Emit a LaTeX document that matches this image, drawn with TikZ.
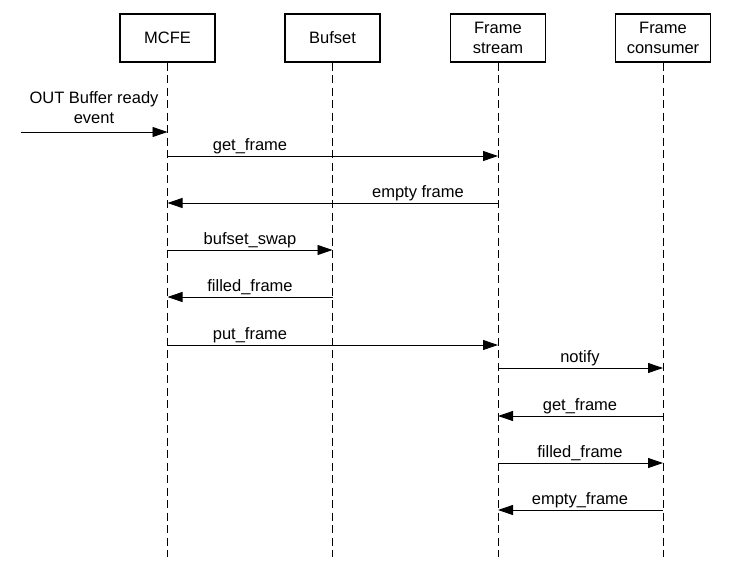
\documentclass[tikz,border=0pt]{standalone}
\usepackage{fontspec}
\setmainfont{Liberation Sans}
\usetikzlibrary{arrows.meta}
\begin{document}
\begin{tikzpicture}[x=1pt,y=-1pt,
  actor/.style={draw,line width=1.1pt,minimum width=95pt,minimum height=48pt,inner sep=0pt,align=center,font=\fontsize{16.5}{19.5}\selectfont},
  life/.style={line width=0.9pt,dash pattern=on 8pt off 4.5pt},
  msg/.style={line width=0.9pt,-{Triangle[length=15pt,width=10pt]}},
  lbl/.style={inner sep=0pt,font=\fontsize{16.5}{19.5}\selectfont}]
\useasboundingbox (0,0) rectangle (732,573);
\node[actor] (mcfe) at (167.5,38) {MCFE};
\node[actor] (bufset) at (332.5,38) {Bufset};
\node[actor] (fs) at (498,38) {Frame\\stream};
\node[actor] (fc) at (663,38) {Frame\\consumer};
\foreach \n in {mcfe,bufset,fs,fc}{
  \coordinate (\n-end) at (\n.south |- 0,557);
  \draw[life] (\n.south) -- (\n-end);
}
% incoming event
\coordinate (ev) at (21,132);
\draw[msg] (ev) -- (mcfe |- ev);
\node[lbl,align=center,font=\fontsize{16.5}{20}\selectfont] (evl) at (94,108) {OUT Buffer ready\\event};
% messages
\draw[msg] (mcfe |- 0,156) -- (fs |- 0,156);
\node[lbl,anchor=base] (l1) at (250,150) {get\_frame};
\draw[msg] (fs |- 0,203) -- (mcfe |- 0,203);
\node[lbl,anchor=base] (l2) at (418,197) {empty frame};
\draw[msg] (mcfe |- 0,250) -- (bufset |- 0,250);
\node[lbl,anchor=base] (l3) at (250,244) {bufset\_swap};
\draw[msg] (bufset |- 0,297) -- (mcfe |- 0,297);
\node[lbl,anchor=base] (l4) at (250,291) {filled\_frame};
\draw[msg] (mcfe |- 0,345) -- (fs |- 0,345);
\node[lbl,anchor=base] (l5) at (250,339) {put\_frame};
\draw[msg] (fs |- 0,368) -- (fc |- 0,368);
\node[lbl,anchor=base] (l6) at (580,362) {notify};
\draw[msg] (fc |- 0,416) -- (fs |- 0,416);
\node[lbl,anchor=base] (l7) at (580,410) {get\_frame};
\draw[msg] (fs |- 0,463) -- (fc |- 0,463);
\node[lbl,anchor=base] (l8) at (580,457) {filled\_frame};
\draw[msg] (fc |- 0,510) -- (fs |- 0,510);
\node[lbl,anchor=base] (l9) at (580,504) {empty\_frame};
\end{tikzpicture}
\end{document}
